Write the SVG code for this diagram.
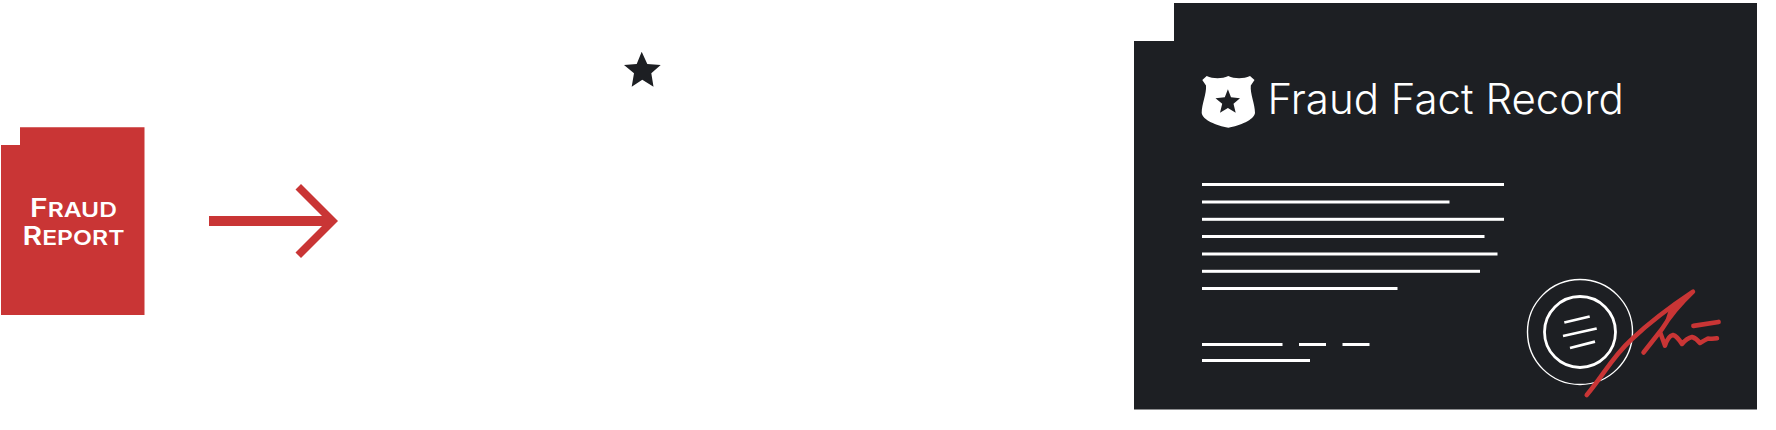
<svg xmlns="http://www.w3.org/2000/svg" width="1776" height="430" viewBox="0 0 1776 430">
<style>
.red{fill:#c93535}
.dark{fill:#1d1f23}
.ln{fill:#fff}
.rt{font-family:"Inter","Noto Sans",sans-serif;font-weight:600;fill:#fff}
.cap{font-size:25px}
.sm{font-size:20.500px}
.title{font-family:"Inter","Noto Sans",sans-serif;font-weight:300;font-size:42px;fill:#fff}
.seal{fill:none;stroke:#fff}
.sig{fill:none;stroke:#c93535;stroke-linecap:round;stroke-linejoin:round}
</style>
<rect width="1776" height="430" fill="#fff"/>
<g id="fraud-report">
<path class="red" d="M1 145H20V127.300H144.500V315H1Z"/>
<text class="rt" x="30" y="216.700" textLength="87" lengthAdjust="spacingAndGlyphs"><tspan class="cap">F</tspan><tspan class="sm">RAUD</tspan></text>
<text class="rt" x="22.500" y="244.700" textLength="102" lengthAdjust="spacingAndGlyphs"><tspan class="cap">R</tspan><tspan class="sm">EPORT</tspan></text>
</g>
<g id="connectors">
<path class="red" d="M209 216H322L295.500 189.500L301 184L338 221L301 258L295.500 252.500L322 226H209Z"/>
</g>
<g id="star">
<path class="dark" d="M641.700 51.700L647.300 64L660.700 65L651.300 73.300L653.500 86.700L642.300 79.700L631.700 86.700L634 73.300L624 65L636.700 64Z"/>
</g>
<g id="fraud-fact-record">
<path class="dark" d="M1134 41H1174V3H1757V409.500H1134Z"/>
<g id="shield">
<path fill="#fff" d="M1206.700 76C1213 79 1222 79 1228.300 76C1234.500 79 1243.500 79 1250 76L1254.500 80L1250.800 85.500C1250 94 1255 104 1255 113C1254 120 1240 125.500 1228.300 127.700C1216.500 125.500 1202.500 120 1201.700 113C1201.700 104 1206.700 94 1206 85.500L1202.300 80Z"/>
<path class="dark" d="M1227.900 89.300L1231 97.300L1240 98.300L1233.500 103.800L1235.700 112.700L1227.900 108L1220 112.700L1222.200 103.800L1215.500 98.300L1224.800 97.300Z"/>
</g>
<text class="title" x="1267.500" y="114">Fraud Fact Record</text>
<g id="text-lines">
<rect class="ln" x="1202" y="183" width="302" height="3"/>
<rect class="ln" x="1202" y="200.500" width="247.500" height="3"/>
<rect class="ln" x="1202" y="217.800" width="302" height="3"/>
<rect class="ln" x="1202" y="235" width="282.500" height="3"/>
<rect class="ln" x="1202" y="252.500" width="295.500" height="3"/>
<rect class="ln" x="1202" y="269.800" width="278" height="3"/>
<rect class="ln" x="1202" y="287" width="195.500" height="3"/>
<rect class="ln" x="1202" y="343" width="80.500" height="3"/>
<rect class="ln" x="1299" y="343" width="27" height="3"/>
<rect class="ln" x="1342.500" y="343" width="27" height="3"/>
<rect class="ln" x="1202" y="359" width="108" height="3"/>
</g>
<g id="seal">
<circle class="seal" cx="1580" cy="332" r="52.500" stroke-width="1.400"/>
<circle class="seal" cx="1580" cy="332" r="35.500" stroke-width="2.800"/>
<path class="seal" stroke-width="2.800" d="M1564.300 322.500L1589.700 316.500M1563 336L1596.700 328.500M1570 348L1595 341.700"/>
</g>
<g id="signature">
<path class="red" d="M1670 306L1693 291.700L1671 316L1663 328Z"/>
<path class="sig" stroke-width="4.500" d="M1586.700 395C1603 376 1612 357 1632 339C1650 322 1670 307 1693 291.700C1678 306 1670 316 1662 329L1643.500 352.500"/>
<path class="sig" stroke-width="4.500" d="M1660 332Q1663 340 1665 345.700Q1668 336 1673 335Q1677 336 1682 344Q1687 338 1692 337Q1696 338 1700 343Q1705 340 1708 338.500Q1713 339 1717 338.300"/>
<path class="sig" stroke-width="4.800" d="M1693.500 325.800L1718.500 322"/>
</g>
</g>
</svg>
